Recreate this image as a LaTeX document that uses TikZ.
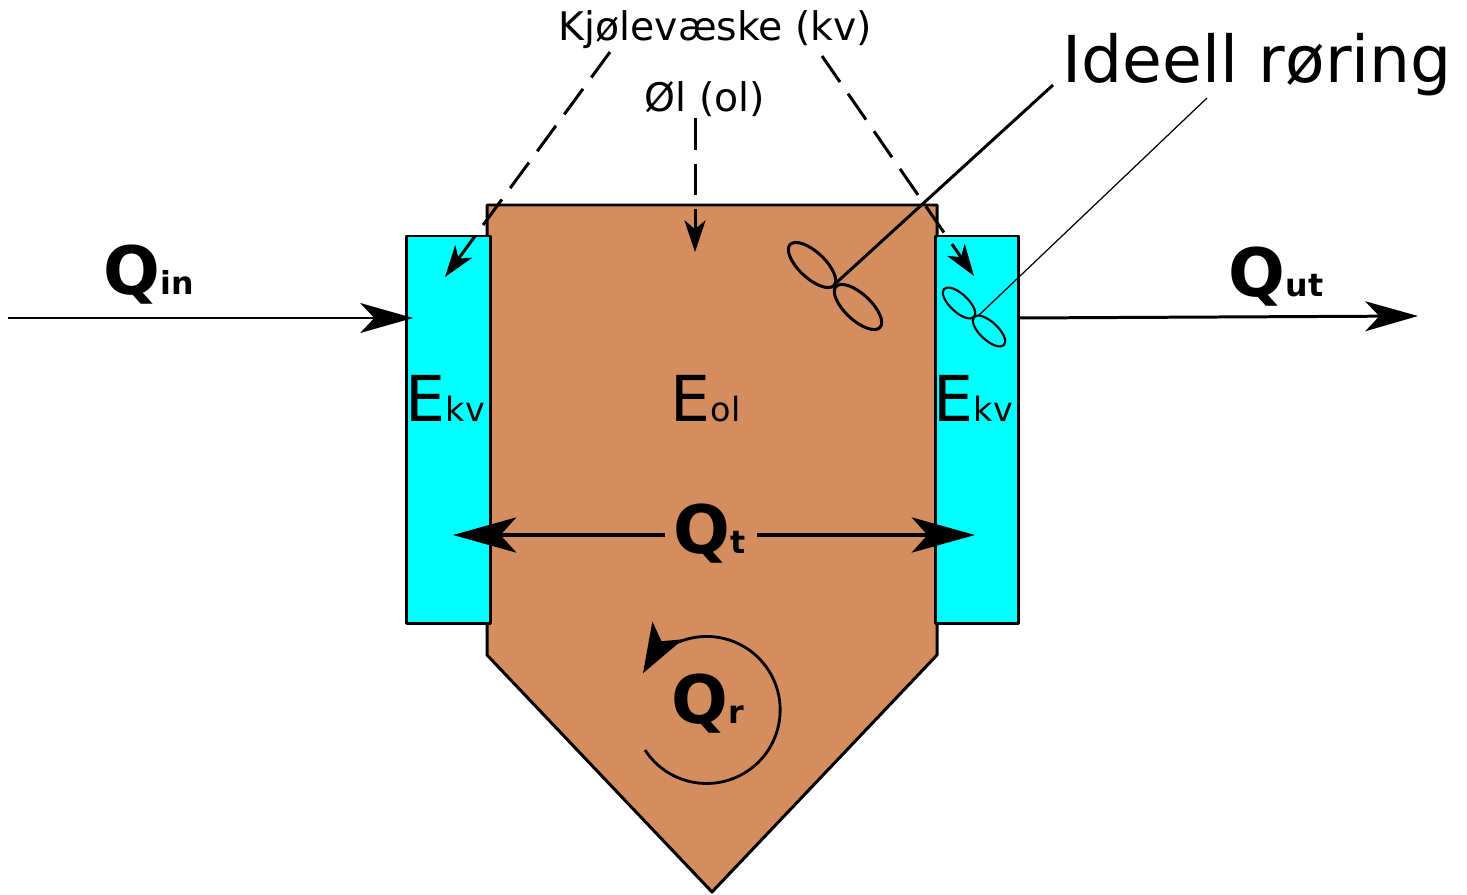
\documentclass[tikz,border=0pt]{standalone}
\usepackage{fontspec}
\setmainfont{DejaVu Sans}
\usetikzlibrary{arrows.meta,shapes.geometric}
\definecolor{olbrown}{HTML}{D38D5F}
\definecolor{kvcyan}{HTML}{00FFFF}
\newcommand{\qlabel}[1]{\bfseries\fontsize{19}{19}\selectfont Q\fontsize{9}{9}\selectfont #1}
\newcommand{\elabel}[1]{\fontsize{18}{18}\selectfont E\fontsize{9.5}{9.5}\selectfont #1}
\tikzset{
  wall/.style={draw=black,line width=0.85pt,line join=round},
  txt/.style={anchor=base west,inner sep=0pt},
  note/.style={txt,font=\fontsize{11.2}{11.2}\selectfont},
  fanbig/.style={draw=black,line width=0.85pt,ellipse,inner sep=0pt,rotate=-43,minimum width=0.6cm,minimum height=0.26cm},
  fansmall/.style={draw=black,line width=0.6pt,ellipse,inner sep=0pt,rotate=-43,minimum width=0.41cm,minimum height=0.18cm},
  flow/.style={line width=0.85pt,-{Stealth[length=15pt,width=8.5pt,inset=4pt]}},
  heat/.style={line width=0.95pt,-{Stealth[length=18pt,width=10pt,inset=4.5pt]}},
  pointer/.style={line width=0.85pt,dash pattern=on 9pt off 4pt,-{Stealth[length=9pt,width=6pt,inset=2.5pt]}}
}
\begin{document}
\begin{tikzpicture}[x=0.01cm,y=-0.01cm]
  \useasboundingbox (0,0) rectangle (1467,894);
  \filldraw[wall,fill=olbrown] (487,205) -- (937,205) -- (937,655) -- (712,892) -- (487,655) -- cycle;
  \filldraw[wall,fill=kvcyan] (406,236) rectangle (490,623);
  \filldraw[wall,fill=kvcyan] (935,236) rectangle (1018,623);
  \draw
    (812,265) node[fanbig] (fan1){}
    (858,307) node[fanbig] (fan2){}
    (959,303) node[fansmall] (fan3){}
    (989,331) node[fansmall] (fan4){}
    (558,41) node[note] (kv){Kjølevæske (kv)}
    (644,112) node[note] (ol){Øl (ol)}
    (1062,83) node[txt,font=\fontsize{18.4}{18.4}\selectfont] (ideell){Ideell røring}
    (103,294) node[txt] (qin){\qlabel{in}}
    (1228,296) node[txt] (qut){\qlabel{ut}}
    (673,553) node[txt] (qt){\qlabel{t}}
    (671,723) node[txt] (qr){\qlabel{r}}
    (405,421) node[txt] (ekv1){\elabel{kv}}
    (933,421) node[txt] (ekv2){\elabel{kv}}
    (670,421) node[txt] (eol){\elabel{ol}};
  \coordinate (a1) at (8,318);
  \coordinate (a2) at (413,318);
  \coordinate (a3) at (1018,318);
  \coordinate (a4) at (1418,316);
  \coordinate (t1) at (665,535);
  \coordinate (t2) at (453,535);
  \coordinate (t3) at (757,535);
  \coordinate (t4) at (975,535);
  \coordinate (p1) at (610,52);
  \coordinate (p2) at (445,277);
  \coordinate (p3) at (822,56);
  \coordinate (p4) at (974,276);
  \coordinate (p5) at (695,118);
  \coordinate (p6) at (695,252);
  \coordinate (i1) at (1053,85);
  \coordinate (i2) at (836,283);
  \coordinate (i3) at (1207,98);
  \coordinate (i4) at (978,316);
  \begin{scope}[flow]
    \draw (a1) to (a2);
    \draw (a3) to (a4);
  \end{scope}
  \begin{scope}[heat]
    \draw (t1) to (t2);
    \draw (t3) to (t4);
  \end{scope}
  \begin{scope}[pointer]
    \draw (p1) to (p2);
    \draw (p3) to (p4);
    \draw (p5) to (p6);
  \end{scope}
  \draw[line width=0.85pt] (i1) to (i2);
  \draw[line width=0.35pt] (i3) to (i4);
  \draw[line width=0.8pt,-{Stealth[length=14pt,width=10pt,inset=3.5pt]}] (645,750) arc[start angle=147,end angle=-150,radius=73.5];
\end{tikzpicture}
\end{document}
